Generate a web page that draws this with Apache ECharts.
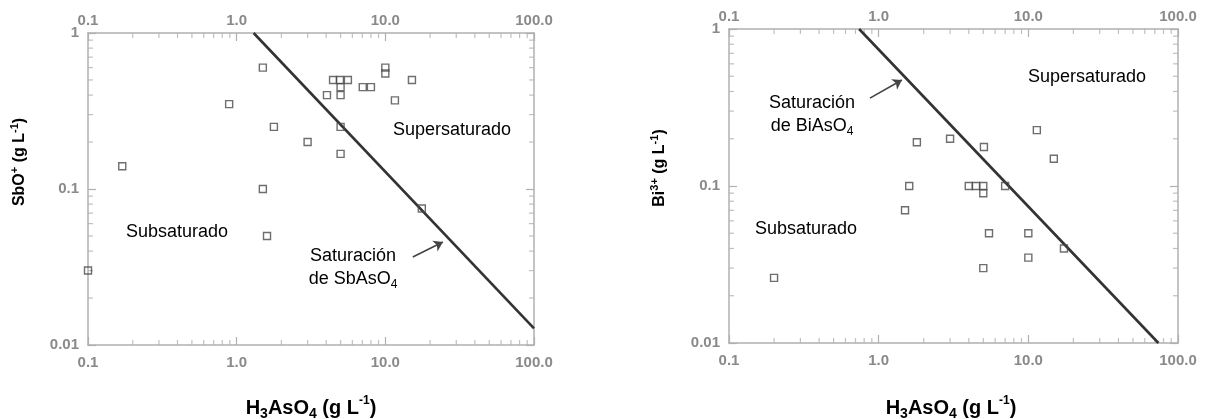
<!DOCTYPE html>
<html>
<head>
<meta charset="utf-8">
<script src="https://cdn.jsdelivr.net/npm/echarts@6/dist/echarts.min.js"></script>
<style>
  html, body { margin: 0; padding: 0; background: #fff; }
  #main { width: 1207px; height: 419px; }
</style>
</head>
<body>
<div id="main"></div>
<script>
// SbO+ panel (left)
const sbX = [0.1, 0.17, 0.89, 1.5, 1.78, 1.5, 1.6, 3.0, 4.05, 4.45, 4.95, 5.6, 5.0, 5.0, 5.0, 5.0, 7.05, 8.0, 10, 10, 11.6, 15.1, 17.6]
const sbY = [0.03, 0.14, 0.35, 0.6, 0.25, 0.1, 0.05, 0.2, 0.4, 0.5, 0.5, 0.5, 0.45, 0.4, 0.25, 0.168, 0.45, 0.45, 0.6, 0.55, 0.37, 0.5, 0.075]
const sbLineX = [1.3, 100]
const sbLineY = [1, 0.0128]
const sbArrow = [[15.3, 0.0367], [24.4, 0.0457]]

// Bi3+ panel (right)
const biX = [0.2, 1.5, 1.6, 1.8, 3.0, 5.05, 4.0, 4.47, 5.0, 5.0, 7.0, 11.4, 14.8, 5.46, 10, 10, 5.0, 17.3]
const biY = [0.026, 0.07, 0.1, 0.19, 0.2, 0.177, 0.1, 0.1, 0.1, 0.09, 0.1, 0.227, 0.149, 0.05, 0.05, 0.035, 0.03, 0.04]
const biLineX = [0.74, 74]
const biLineY = [1, 0.01]
const biArrow = [[0.875, 0.363], [1.43, 0.473]]

// axes
const xTickLabels = ['0.1', '1.0', '10.0', '100.0']
const yTickLabels = ['0.01', '0.1', '1']
const xMinor = [0.2, 0.3, 0.4, 0.5, 0.6, 0.7, 0.8, 0.9, 2, 3, 4, 5, 6, 7, 8, 9, 20, 30, 40, 50, 60, 70, 80, 90]
const yMinor = [0.02, 0.03, 0.04, 0.05, 0.06, 0.07, 0.08, 0.09, 0.2, 0.3, 0.4, 0.5, 0.6, 0.7, 0.8, 0.9]

const FONT = '"Liberation Sans", Arial, sans-serif'
const AXIS_COLOR = '#b0b0b0'
const LABEL_COLOR = '#8a8a8a'

const zip = (a, b) => a.map((v, i) => [v, b[i]])

function xAxis(grid, pos, margin) {
  return {
    type: 'log', logBase: 10, gridIndex: grid, position: pos,
    min: 0.1, max: 100,
    axisLine: { show: true, lineStyle: { color: AXIS_COLOR, width: 1.5 } },
    axisTick: { show: true, inside: true, length: 8, lineStyle: { color: AXIS_COLOR, width: 1.2 } },
    splitLine: { show: false },
    axisLabel: {
      margin: margin, color: LABEL_COLOR, fontSize: 15, fontWeight: 'bold', fontFamily: FONT,
      formatter: (v, i) => xTickLabels[i]
    }
  }
}

function yAxis(grid, pos, showLabel) {
  return {
    type: 'log', logBase: 10, gridIndex: grid, position: pos,
    min: 0.01, max: 1,
    axisLine: { show: true, lineStyle: { color: AXIS_COLOR, width: 1.5 } },
    axisTick: { show: true, inside: true, length: 8, lineStyle: { color: AXIS_COLOR, width: 1.2 } },
    splitLine: { show: false },
    axisLabel: {
      show: showLabel, margin: 9, color: LABEL_COLOR, fontSize: 15, fontWeight: 'bold', fontFamily: FONT,
      formatter: (v, i) => yTickLabels[i]
    }
  }
}

// minor ticks drawn as thin rects on the axes' own scales
function minorTicks(xi, yi) {
  const base = {
    type: 'scatter', xAxisIndex: xi, yAxisIndex: yi, symbol: 'rect', silent: true,
    clip: false, itemStyle: { color: AXIS_COLOR }, z: 1
  }
  return [
    Object.assign({}, base, { data: xMinor.map(v => [v, 0.01]), symbolSize: [1.2, 5], symbolOffset: [0, -2.5] }),
    Object.assign({}, base, { data: xMinor.map(v => [v, 1]), symbolSize: [1.2, 5], symbolOffset: [0, 2.5] }),
    Object.assign({}, base, { data: yMinor.map(v => [0.1, v]), symbolSize: [5, 1.2], symbolOffset: [2.5, 0] }),
    Object.assign({}, base, { data: yMinor.map(v => [100, v]), symbolSize: [5, 1.2], symbolOffset: [-2.5, 0] })
  ]
}

function points(xi, yi, xs, ys) {
  return {
    type: 'scatter', xAxisIndex: xi, yAxisIndex: yi, data: zip(xs, ys),
    symbol: 'rect', symbolSize: 7, z: 3,
    itemStyle: { color: 'rgba(255,255,255,0)', borderColor: '#4a4a4a', borderWidth: 1.4 }
  }
}

function satLine(xi, yi, xs, ys, arrow) {
  return {
    type: 'line', xAxisIndex: xi, yAxisIndex: yi, data: zip(xs, ys),
    symbol: 'none', z: 2,
    lineStyle: { color: '#333', width: 2.6 },
    markLine: {
      silent: true, symbol: ['none', 'arrow'], symbolSize: 9,
      label: { show: false },
      lineStyle: { color: '#444', width: 1.6, type: 'solid' },
      data: [[{ coord: arrow[0] }, { coord: arrow[1] }]]
    }
  }
}

const rich = {
  n: { fontSize: 20, fontWeight: 'bold', fontFamily: FONT, color: '#111', lineHeight: 26 },
  sub: { fontSize: 14, fontWeight: 'bold', fontFamily: FONT, color: '#111', verticalAlign: 'bottom', lineHeight: 15 },
  sup: { fontSize: 12, fontWeight: 'bold', fontFamily: FONT, color: '#111', verticalAlign: 'top', lineHeight: 13 },
  ny: { fontSize: 16, fontWeight: 'bold', fontFamily: FONT, color: '#111', lineHeight: 22 },
  supy: { fontSize: 11, fontWeight: 'bold', fontFamily: FONT, color: '#111', verticalAlign: 'top', lineHeight: 12 },
  t: { fontSize: 18, fontFamily: FONT, color: '#222', lineHeight: 23 },
  ts: { fontSize: 12, fontFamily: FONT, color: '#222', verticalAlign: 'bottom', lineHeight: 14 }
}

const xTitle = '{n|H}{sub|3}{n|AsO}{sub|4}{n| (g L}{sup|-1}{n|)}'

function label(x, y, text, rot) {
  return {
    type: 'text', x: x, y: y, rotation: rot || 0,
    style: { text: text, rich: rich, align: 'center', verticalAlign: 'middle' }
  }
}

const chart = echarts.init(document.getElementById('main'), null, { renderer: 'canvas' })

chart.setOption({
  animation: false,
  backgroundColor: '#fff',
  grid: [
    { left: 88, top: 33, width: 446, height: 312 },
    { left: 729, top: 29, width: 449, height: 314 }
  ],
  xAxis: [xAxis(0, 'bottom', 10), xAxis(0, 'top', 5), xAxis(1, 'bottom', 10), xAxis(1, 'top', 5)],
  yAxis: [yAxis(0, 'left', true), yAxis(0, 'right', false), yAxis(1, 'left', true), yAxis(1, 'right', false)],
  series: [
    ...minorTicks(0, 0),
    ...minorTicks(2, 2),
    satLine(0, 0, sbLineX, sbLineY, sbArrow),
    points(0, 0, sbX, sbY),
    satLine(2, 2, biLineX, biLineY, biArrow),
    points(2, 2, biX, biY)
  ],
  graphic: [
    label(311, 408, xTitle),
    label(951, 408, xTitle),
    label(20, 162, '{ny|SbO}{supy|+}{ny| (g L}{supy|-1}{ny|)}', Math.PI / 2),
    label(660, 168, '{ny|Bi}{supy|3+}{ny| (g L}{supy|-1}{ny|)}', Math.PI / 2),
    label(452, 130, '{t|Supersaturado}'),
    label(177, 232, '{t|Subsaturado}'),
    label(353, 268, '{t|Saturación}\n{t|de SbAsO}{ts|4}'),
    label(1087, 77, '{t|Supersaturado}'),
    label(806, 229, '{t|Subsaturado}'),
    label(812, 115, '{t|Saturación}\n{t|de BiAsO}{ts|4}')
  ]
})
</script>
</body>
</html>
